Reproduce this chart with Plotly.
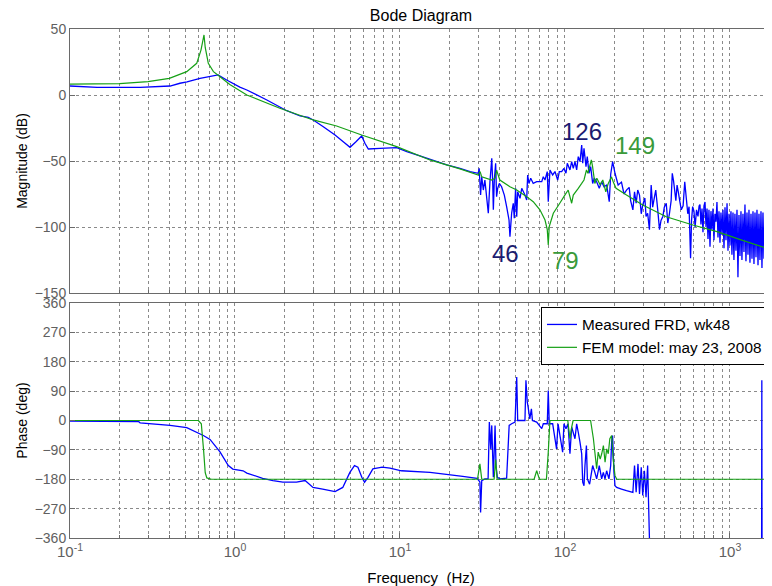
import math
import plotly.graph_objects as go

# ---------------- data ----------------
meas_mag_freq = [
    0.1, 0.146, 0.266, 0.404, 0.464, 0.512, 0.614, 0.79, 0.89, 1.07, 1.18, 1.56, 2.06, 2.48, 2.78,
    2.98, 3.43, 4.04, 4.53, 4.98, 5.41, 5.86, 6.13, 6.43, 7.57, 9.55, 11.0, 13.2, 19.2, 23.1,
    26.6, 29.8, 30.2, 30.8, 31.3, 32.0, 32.7, 34.3, 35.1, 36.0, 36.5, 36.8, 37.3, 38.0, 38.5,
    39.1, 40.0, 41.3, 42.9, 44.3, 45.8, 46.4, 47.5, 48.6, 49.3, 50.2, 51.0, 51.7, 53.4, 54.7,
    57.2, 58.6, 59.4, 60.5, 62.0, 64.2, 67.4, 72.3, 73.9, 75.7, 78.1, 79.2, 81.1, 84.2, 87.0,
    90.3, 92.4, 95.5, 98.6, 101.4, 103.3, 107.2, 109.8, 112.3, 115.0, 117.7, 120.4, 123.3, 126.3, 128.1,
    130.4, 134.1, 136.5, 139.8, 143.1, 147.2, 150.5, 155.6, 161.4, 166.9, 172.4, 178.9, 185.5, 189.3, 194.5,
    201, 210, 220, 228, 236, 245, 250, 258, 264, 270, 276, 283, 290, 296, 305,
    310, 317, 325, 333, 340, 349, 355, 365, 374, 382, 392, 400, 411, 420, 430,
    440, 447, 455, 462, 470, 478, 487, 497, 507, 520, 532, 545, 555, 565, 577,
    585, 594, 605, 615, 627, 640, 650,
    658, 667, 677, 686, 696, 706, 716, 726, 736, 746, 757, 767, 778, 789, 800,
    811, 823, 834, 846, 858, 870, 882, 895, 907, 920, 933, 946, 960, 973, 987,
    1000, 1014, 1028, 1043, 1057, 1072, 1087, 1103, 1118, 1134, 1150, 1166, 1182, 1199, 1216,
    1233, 1250, 1268, 1286, 1304, 1322, 1341, 1360, 1379, 1398, 1418, 1438, 1458, 1479, 1499,
    1520, 1542, 1563, 1585, 1608, 1630, 1653, 1677, 1700, 1724, 1748, 1773, 1798,
]
meas_mag_db = [
    6.8, 5.8, 5.8, 6.8, 8.9, 10.0, 12.6, 15.2, 11.4, 6.0, 3.8, -3.8, -11.9, -15.9, -16.9,
    -18.9, -24.0, -30.3, -35.4, -39.6, -35.4, -31.0, -36.6, -40.9, -40.4, -39.9, -42.9, -46.2, -53.0, -55.6,
    -58.0, -59.3, -55.6, -75.8, -61.9, -72.0, -64.4, -89.6, -65.7, -48.0, -67.0, -87.0, -64.4, -51.7, -77.0,
    -70.7, -67.0, -69.5, -75.8, -84.6, -94.7, -107.3, -89.6, -82.0, -93.4, -70.7, -92.2, -73.3, -78.3, -70.7,
    -75.8, -79.5, -60.6, -67.0, -63.0, -67.0, -65.7, -65.7, -61.9, -64.4, -58.0, -80.8, -56.8, -60.6, -58.0,
    -64.4, -58.0, -58.0, -55.6, -59.3, -51.7, -56.8, -50.5, -55.6, -50.5, -56.8, -46.7, -50.5, -38.0, -51.7,
    -40.4, -54.3, -46.7, -59.3, -54.3, -67.0, -63.0, -65.7, -70.7, -65.7, -69.5, -68.2, -80.8, -60.0, -50.5,
    -59.3, -68.2, -66.0, -75.0, -72.0, -70.0, -80.0, -87.0, -73.3, -82.0, -72.0, -75.8, -90.0, -83.3, -78.0,
    -92.0, -89.6, -102.0, -68.2, -85.0, -77.0, -72.0, -87.0, -102.0, -95.0, -92.0, -85.0, -82.0, -97.0, -89.6,
    -80.0, -59.3, -65.0, -72.0, -80.0, -68.2, -74.0, -80.8, -87.0, -84.0, -65.7, -79.5, -90.0, -84.6, -123.7,
    -95.0, -84.6, -88.0, -100.0, -87.0, -92.0, -84.0,
    -83, -98, -86, -104, -84, -81, -100, -86, -109, -87, -115, -88, -102, -86, -110,
    -90, -96, -81, -108, -88, -112, -89, -106, -87, -116, -85, -110, -82, -118, -90,
    -114, -88, -121, -89, -125, -90, -118, -87, -138, -91, -122, -88, -125, -90, -119,
    -83, -126, -89, -121, -87, -127, -90, -124, -88, -128, -89, -123, -87, -129, -90,
    -125, -88, -131, -89, -124, -87, -128, -90, -126, -88, -129, -91, -125,
]

fem_mag_freq = [
    0.1, 0.2, 0.297, 0.40, 0.51, 0.586, 0.622, 0.649, 0.66, 0.689, 0.74, 0.79, 0.93, 1.18, 1.87,
    2.98, 4.13, 5.86, 9.55, 15.2, 23.1, 29.8, 30.6, 31.3, 36.0, 37.7, 38.5, 40.3, 46.4, 51.0,
    58.6, 64.2, 70.5, 75.7, 78.1, 79.2, 80.3, 85.0, 93.0, 99.8, 104.6, 109.8, 112.3, 120.4, 126.3,
    130.4, 135.0, 137.6, 144.5, 147.0, 151.7, 156.0, 163.5, 169.5, 176.8, 183.0, 191.5, 196.0, 204.0, 236.0,
    296.0, 411.0, 596.0, 835.0, 1167.0, 1798.0,
]
fem_mag_db = [
    8.3, 8.6, 10.1, 12.6, 17.7, 24.0, 34.0, 45.5, 36.0, 24.0, 17.7, 15.0, 8.0, 0.0, -10.0,
    -18.9, -23.5, -30.3, -39.1, -49.2, -56.0, -60.6, -58.0, -62.0, -64.4, -63.0, -57.0, -64.4, -69.5, -72.0,
    -77.0, -80.8, -87.0, -94.7, -102.0, -113.6, -99.6, -89.6, -82.0, -75.8, -72.0, -82.0, -75.8, -70.7, -67.0,
    -64.4, -56.8, -59.3, -49.2, -54.3, -67.0, -63.0, -68.2, -64.4, -73.3, -67.0, -62.0, -65.7, -70.7, -75.8,
    -83.3, -92.2, -98.5, -103.5, -109.8, -117.4,
]

meas_ph_freq = [
    0.1, 0.26, 0.266, 0.404, 0.51, 0.643, 0.706, 0.811, 0.911, 0.97, 1.12, 1.18, 1.47, 1.7, 1.95,
    2.36, 2.66, 2.97, 3.4, 4.04, 4.5, 4.97, 5.3, 5.56, 5.87, 6.1, 6.4, 6.85, 7.8, 8.7,
    10.2, 15.2, 24.0, 29.3, 30.5, 30.8, 31.3, 32.7, 34.2, 34.8, 35.5, 36.0, 36.8, 37.7, 38.2,
    38.9, 40.4, 44.3, 45.9, 47.5, 49.8, 51.0, 51.7, 54.7, 57.2, 58.0, 59.1, 59.8, 61.2, 62.6,
    63.5, 67.4, 72.3, 73.9, 78.1, 79.2, 80.3, 84.2, 88.9, 90.8, 96.8, 98.6, 101.4, 104.3, 107.2,
    109.8, 115.0, 117.7, 120.4, 123.3, 126.3, 128.1, 130.4, 132.2, 134.9, 136.7, 141.0, 147.2, 151.8, 155.6,
    161.4, 166.9, 170.8, 174.8, 178.9, 184.7, 189.3, 191.8, 194.4, 198.1, 201.0, 205.8, 220, 236, 258,
    264, 270, 277, 283, 290, 296, 303, 310, 317, 325, 330, 1555, 1560, 1565, 1798,
]
meas_ph_deg = [
    -2, -3, -7, -15, -22, -46, -58, -96, -138, -149, -154, -161, -177, -184, -189,
    -189, -184, -205, -210, -218, -205, -159, -138, -143, -174, -189, -174, -148, -143, -146,
    -154, -159, -171, -177, -188, -282, -184, -179, -179, -5, -87, -15, -174, -15, -138,
    -174, -179, -177, -15, -10, -5, 133, 0, 0, 0, 123, 56, 41, 5, 36,
    0, -5, -25, -10, -10, 92, -10, -10, -87, -10, -97, -10, -25, -10, -102,
    -20, -56, -10, -36, -66, -102, -189, -200, -138, -77, -179, -195, -138, -159, -179,
    -138, -179, -159, -179, -154, -179, -138, -66, -46, -159, -200, -205, -210, -215, -220,
    -138, -220, -133, -225, -143, -230, -154, -235, -138, -360, -420, -420, 123, -420, -420,
]

fem_ph_freq = [
    0.1, 0.6, 0.625, 0.645, 0.66, 0.675, 0.72, 29.5, 30.5, 31.3, 37.2, 38.0, 38.8, 65.0, 67.4,
    70.0, 77.2, 79.2, 81.1, 104.0, 107.2, 109.8, 112.0, 143.0, 148.7, 155.6, 159.0, 163.5, 167.0, 171.0,
    175.0, 179.0, 183.0, 187.0, 191.8, 196.0, 201.0, 206.0, 1798.0,
]
fem_ph_deg = [
    0, 0, -10, -90, -160, -176, -180, -180, -133, -180, -180, -120, -180, -180, -154,
    -180, -180, -97, 0, 0, -56, -20, 0, 0, -56, -148, -97, -118, -102, -77,
    -128, -87, -102, -56, -46, -118, -169, -180, -180,
]

assert len(meas_mag_freq) == len(meas_mag_db)
assert len(fem_mag_freq) == len(fem_mag_db)
assert len(meas_ph_freq) == len(meas_ph_deg)
assert len(fem_ph_freq) == len(fem_ph_deg)

major_ticks = [0.1, 1, 10, 100, 1000]
major_text = ["10<sup>-1</sup>", "10<sup>0</sup>", "10<sup>1</sup>", "10<sup>2</sup>", "10<sup>3</sup>"]
mag_ticks = [-150, -100, -50, 0, 50]
phase_ticks = [-360, -270, -180, -90, 0, 90, 180, 270, 360]

labels = [("126", 126.3, -27.3, "#1c1c70"), ("149", 264, -38.6, "#3a9a3a"),
          ("46", 43.3, -119.7, "#1c1c70"), ("79", 100.2, -125.0, "#3a9a3a")]

# ---------------- styling ----------------
FONT = "Arial, 'Liberation Sans', sans-serif"
GRID = "#8a8a8a"
AX = "#6a6a6a"
TICKC = "#606060"
BLUE = "#0000ff"
GREEN = "#16a016"
minor_vals = [k * 10.0 ** d for d in range(-1, 4) for k in range(2, 10) if k * 10.0 ** d <= 1800]
xr = [-1, math.log10(1798)]

W, H = 764, 578
ML, MR, MT, MB = 62, 0, 21, 48
PH = H - MT - MB  # 509

fig = go.Figure()
fig.add_trace(go.Scatter(x=meas_mag_freq, y=meas_mag_db, mode="lines", xaxis="x", yaxis="y",
                         line=dict(color=BLUE, width=1.3, simplify=False), showlegend=False, hoverinfo="skip"))
fig.add_trace(go.Scatter(x=fem_mag_freq, y=fem_mag_db, mode="lines", xaxis="x", yaxis="y",
                         line=dict(color=GREEN, width=1.2, simplify=False), showlegend=False, hoverinfo="skip"))
fig.add_trace(go.Scatter(x=meas_ph_freq, y=meas_ph_deg, mode="lines", xaxis="x2", yaxis="y2",
                         line=dict(color=BLUE, width=1.3, simplify=False), name="Measured FRD, wk48"))
fig.add_trace(go.Scatter(x=fem_ph_freq, y=fem_ph_deg, mode="lines", xaxis="x2", yaxis="y2",
                         line=dict(color=GREEN, width=1.2, simplify=False), name="FEM model: may 23, 2008"))


def xaxis(anchor, labels_on):
    return dict(type="log", range=xr, domain=[0, 1], anchor=anchor, automargin=False,
                tickvals=major_ticks, ticktext=major_text, showticklabels=labels_on,
                tickfont=dict(family=FONT, size=15, color=TICKC),
                showgrid=True, gridcolor=GRID, griddash="3px,3px", gridwidth=1,
                showline=True, linecolor=AX, linewidth=1, mirror=True,
                ticks="inside", ticklen=5, tickcolor=AX, zeroline=False,
                minor=dict(tickvals=minor_vals, showgrid=True, gridcolor=GRID, griddash="3px,3px",
                           gridwidth=1, ticks="inside", ticklen=3, tickcolor=AX))


def yaxis(dom, anchor, rng, ticks, title):
    return dict(domain=dom, anchor=anchor, range=rng, tickvals=ticks, automargin=False,
                tickfont=dict(family=FONT, size=14, color=TICKC),
                showgrid=True, gridcolor=GRID, griddash="3px,3px", zeroline=False,
                showline=True, linecolor=AX, linewidth=1, ticks="inside", ticklen=5, tickcolor=AX,
                title=dict(text=title, standoff=3, font=dict(family=FONT, size=14, color="#000000")))


top_dom = [(538 - 293) / PH, 1.0]
bot_dom = [0.0, (538 - 303) / PH]

fig.update_layout(
    width=W, height=H,
    margin=dict(l=ML, r=MR, t=MT, b=MB, autoexpand=False),
    paper_bgcolor="white", plot_bgcolor="white",
    font=dict(family=FONT, size=14, color="#000000"),
    title=dict(text="Bode Diagram", x=(421 - 8) / W, xanchor="center", xref="container",
               y=1 - (15 - 8) / H, yanchor="middle", yref="container",
               font=dict(family=FONT, size=16, color="#000000")),
    xaxis=xaxis("y", False),
    xaxis2=dict(xaxis("y2", True), title=dict(text="Frequency\u00a0 (Hz)", standoff=13,
                                                font=dict(family=FONT, size=15, color="#000000"))),
    yaxis=yaxis(top_dom, "x", [-150, 50], mag_ticks, "Magnitude (dB)"),
    yaxis2=yaxis(bot_dom, "x2", [-360, 360], phase_ticks, "Phase (deg)"),
    legend=dict(x=(541 - 70) / 702, y=(538 - 307) / PH, xanchor="left", yanchor="top",
                bgcolor="white", bordercolor="#000000", borderwidth=1,
                font=dict(family=FONT, size=15.3, color="#000000"), itemwidth=30, tracegroupgap=0),
    showlegend=True,
)

for txt, fx, fy, col in labels:
    fig.add_annotation(x=math.log10(fx), y=fy, xref="x", yref="y", text=txt, showarrow=False,
                       font=dict(family=FONT, size=24, color=col), xanchor="center", yanchor="middle")

fig.write_html("out.html")
